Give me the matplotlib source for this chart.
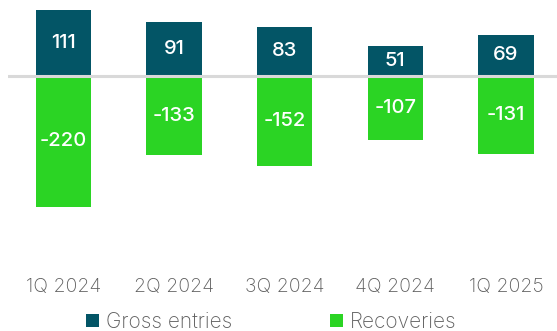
import matplotlib
matplotlib.use("Agg")
import matplotlib.pyplot as plt
from matplotlib.patches import Patch

quarters = ["1Q 2024", "2Q 2024", "3Q 2024", "4Q 2024", "1Q 2025"]
gross_entries = [111, 91, 83, 51, 69]
recoveries = [-220, -133, -152, -107, -131]

TEAL = "#035566"
GREEN = "#2bd424"
GRID = "#d9d9d9"
TICK = "#5f5f5f"

plt.rcParams["font.family"] = ["Inter", "DejaVu Sans"]

W, H = 557, 331
fig = plt.figure(figsize=(W / 100, H / 100), dpi=100)

# axes placement in pixels
left_px, right_px = 8.2, 557
top_px, bottom_px = 0, 270
ax = fig.add_axes([left_px / W, 1 - bottom_px / H,
                   (right_px - left_px) / W, (bottom_px - top_px) / H])

x = list(range(len(quarters)))
ax.bar(x, gross_entries, width=0.5, color=TEAL, zorder=2)
ax.bar(x, recoveries, width=0.5, color=GREEN, zorder=2)
ax.axhline(0, color=GRID, lw=2.2, zorder=3)

for xi, g, r in zip(x, gross_entries, recoveries):
    ax.text(xi, g / 2, f"{g}", ha="center", va="center", color="white",
            fontsize=14.5, fontweight="medium", zorder=4)
    ax.text(xi, r / 2, f"{r}", ha="center", va="center", color="white",
            fontsize=14.5, fontweight="medium", zorder=4)

ppu = 0.595  # pixels per unit
ax.set_ylim(-(bottom_px - 76) / ppu, 76 / ppu)
ax.set_xlim(-0.5, (right_px - left_px) / 110.6 - 0.5)

ax.set_xticks(x)
ax.set_xticklabels(quarters, fontsize=14, color=TICK, fontweight="light")
ax.tick_params(axis="x", length=0, pad=6)
ax.set_yticks([])
for s in ax.spines.values():
    s.set_visible(False)

handles = [Patch(facecolor=TEAL, label="Gross entries"),
           Patch(facecolor=GREEN, label="Recoveries")]
fig.legend(handles=handles, loc="center", bbox_to_anchor=(0.4875, 1 - 322 / H),
           ncol=2, frameon=False, fontsize=15, labelcolor=TICK,
           handlelength=0.6, handleheight=0.6, handletextpad=0.35,
           columnspacing=4.7, borderaxespad=0, borderpad=0)
for t in fig.legends[0].get_texts():
    t.set_fontweight("light")

fig.savefig("out.png", dpi=100)
